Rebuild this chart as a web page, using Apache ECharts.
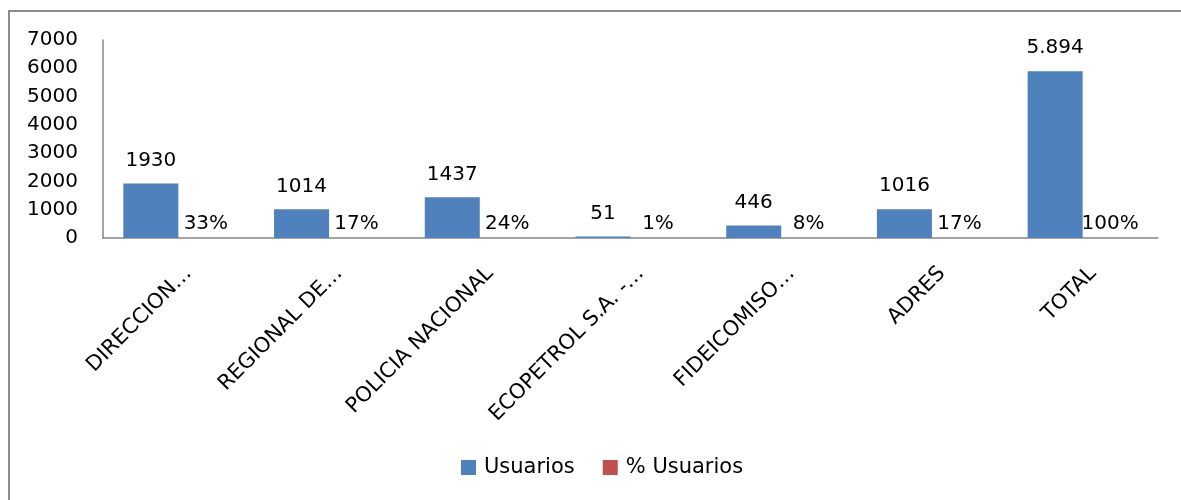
<!DOCTYPE html>
<html>
<head>
<meta charset="utf-8">
<title>Usuarios por entidad</title>
<script src="https://cdn.jsdelivr.net/npm/echarts@6/dist/echarts.min.js"></script>
<style>
    html, body { margin: 0; padding: 0; background: #fff; overflow: hidden; }
    #chart { width: 1181px; height: 500px; }
</style>
</head>
<body>
<div id="chart"></div>
<script>
// Chart data
const categories = ['DIRECCION…', 'REGIONAL DE…', 'POLICIA NACIONAL', 'ECOPETROL S.A. -…', 'FIDEICOMISO…', 'ADRES', 'TOTAL'];
const usuarios = [1930, 1014, 1437, 51, 446, 1016, 5894];
const pctUsuarios = [0.33, 0.17, 0.24, 0.01, 0.08, 0.17, 1.00];
const yTicks = [0, 1000, 2000, 3000, 4000, 5000, 6000, 7000];

const FONT = 'DejaVu Sans';
const TOTAL_INDEX = categories.indexOf('TOTAL');

/**
 * Format a number with dot as thousands separator (5894 -> 5.894)
 */
function withThousands(v) {
    return String(v).replace(/\B(?=(\d{3})+(?!\d))/g, '.');
}

const chart = echarts.init(document.getElementById('chart'), null, { renderer: 'canvas' });

chart.setOption({
    animation: false,
    textStyle: { fontFamily: FONT },
    // chart area frame: only the left and top edges are inside the picture
    graphic: [
        {
            type: 'polyline',
            silent: true,
            shape: { points: [[9, 500], [9, 11], [1181, 11]] },
            style: { stroke: '#8c8c8c', lineWidth: 2, fill: null },
        },
    ],
    grid: { left: 103, right: 23, top: 40, bottom: 262 },
    legend: {
        top: 457,
        left: 461,
        padding: 0,
        itemWidth: 15,
        itemHeight: 15,
        itemGap: 28,
        icon: 'rect',
        textStyle: { fontFamily: FONT, fontSize: 21, color: '#000', padding: [0, 0, 0, 3] },
        data: ['Usuarios', '% Usuarios'],
    },
    xAxis: {
        type: 'category',
        data: categories,
        axisLine: { show: true, lineStyle: { color: '#868686', width: 1.5 } },
        axisTick: { show: false },
        axisLabel: {
            interval: 0,
            rotate: 45,
            margin: 22,
            align: 'right',
            verticalAlign: 'top',
            lineHeight: 29,
            fontFamily: FONT,
            fontSize: 21,
            color: '#000',
        },
    },
    yAxis: {
        type: 'value',
        min: yTicks[0],
        max: yTicks[yTicks.length - 1],
        interval: 1000,
        axisLine: { show: true, lineStyle: { color: '#868686', width: 1.5 } },
        axisTick: { show: false },
        splitLine: { show: false },
        axisLabel: {
            margin: 25,
            fontFamily: FONT,
            fontSize: 20,
            color: '#000',
            formatter: (v) => String(v),
        },
    },
    series: [
        {
            name: 'Usuarios',
            type: 'bar',
            data: usuarios,
            barGap: '0%',
            barCategoryGap: '27%',
            itemStyle: { color: '#4F81BD' },
            label: {
                show: true,
                position: 'top',
                distance: 13,
                fontFamily: FONT,
                fontSize: 20,
                color: '#000',
                formatter: (p) => (p.dataIndex === TOTAL_INDEX ? withThousands(p.value) : String(p.value)),
            },
        },
        {
            name: '% Usuarios',
            type: 'bar',
            data: pctUsuarios,
            itemStyle: { color: '#C0504D' },
            label: {
                show: true,
                position: 'top',
                distance: 4,
                fontFamily: FONT,
                fontSize: 20,
                color: '#000',
                formatter: (p) => Math.round(p.value * 100) + '%',
            },
        },
    ],
});
</script>
</body>
</html>
